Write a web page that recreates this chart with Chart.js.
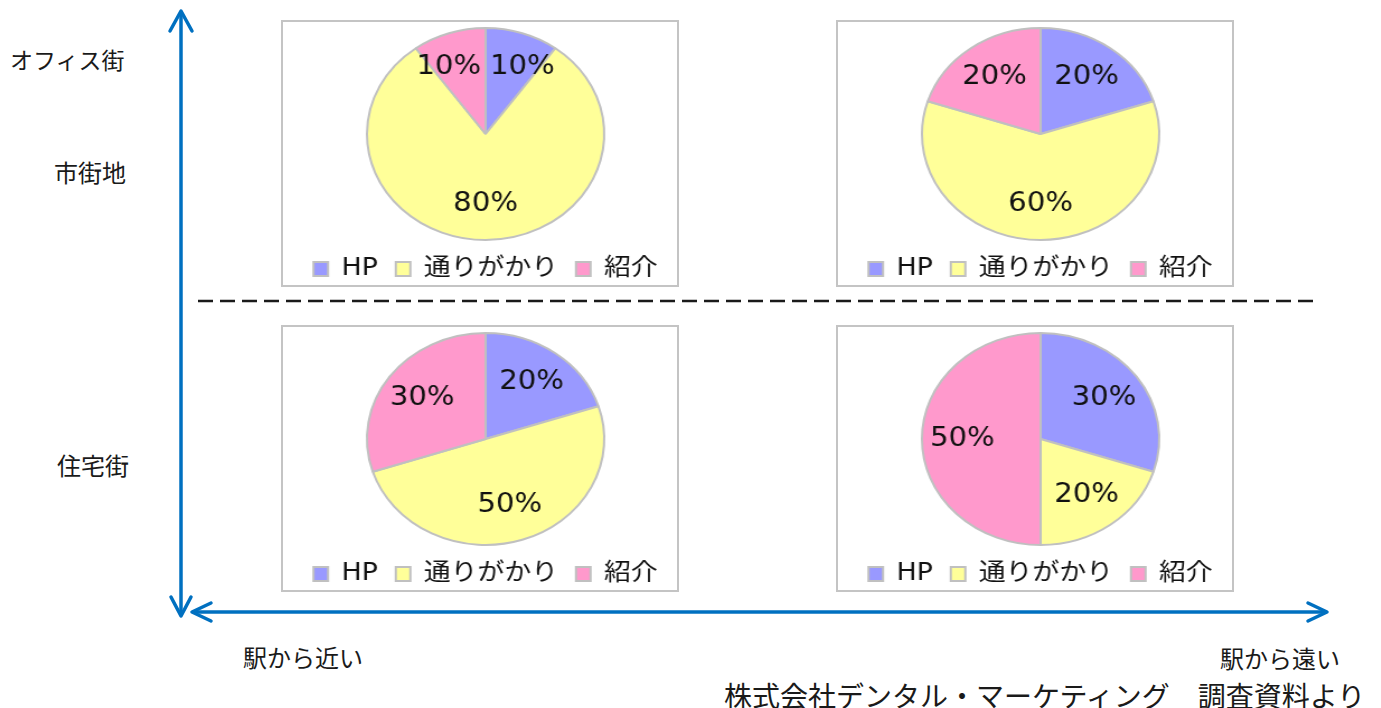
<!DOCTYPE html>
<html lang="ja">
<head>
<meta charset="utf-8">
<script src="https://cdn.jsdelivr.net/npm/chart.js@4.4.1/dist/chart.umd.min.js"></script>
<style>
  html, body { margin: 0; padding: 0; background: #ffffff; }
  body { width: 1381px; height: 708px; position: relative; overflow: hidden;
         font-family: "Noto Sans CJK JP", "Noto Sans", sans-serif; color: #1a1a1a; }
  .lbl { position: absolute; white-space: nowrap; line-height: 1; }
  .box { position: absolute; width: 394px; height: 263px; border: 2px solid #c4c4c4;
         background: #fff; overflow: hidden; }
  .wrap { position: absolute; left: 0; top: 0; width: 352px; height: 269px;
          transform: scaleX(1.1193); transform-origin: 0 0; }
  svg { position: absolute; left: 0; top: 0; }
</style>
</head>
<body>
<svg width="1381" height="708" viewBox="0 0 1381 708">
  <g stroke="#0070c0" stroke-width="3.5" fill="none" stroke-linecap="round" stroke-linejoin="round">
    <line x1="181" y1="13" x2="181" y2="614"/>
    <polyline points="170,31 181,11 192,31"/>
    <polyline points="171,597 181,616 191,597"/>
    <line x1="194" y1="612" x2="1325" y2="612"/>
    <polyline points="211,603 192,612 211,621"/>
    <polyline points="1308,603 1327,612 1308,621"/>
  </g>
  <line x1="198" y1="301" x2="1315" y2="301" stroke="#1a1a1a" stroke-width="2.5" stroke-dasharray="15 7"/>
</svg>

<div class="lbl" style="left:10px; top:48px; font-size:23px;">オフィス街</div>
<div class="lbl" style="left:54px; top:160px; font-size:24px;">市街地</div>
<div class="lbl" style="left:57px; top:453px; font-size:24px;">住宅街</div>
<div class="lbl" style="left:243px; top:645px; font-size:24px;">駅から近い</div>
<div class="lbl" style="left:1220px; top:646px; font-size:24px;">駅から遠い</div>
<div class="lbl" style="left:724px; top:681px; font-size:28px;">株式会社デンタル・マーケティング　調査資料より</div>

<div class="box" style="left:281px; top:20px;"><div class="wrap"><canvas id="c1" width="352" height="269"></canvas></div></div>
<div class="box" style="left:836px; top:20px;"><div class="wrap"><canvas id="c2" width="352" height="269"></canvas></div></div>
<div class="box" style="left:281px; top:325px;"><div class="wrap"><canvas id="c3" width="352" height="269"></canvas></div></div>
<div class="box" style="left:836px; top:325px;"><div class="wrap"><canvas id="c4" width="352" height="269"></canvas></div></div>

<script>
// ---- data ----
const categories = ['HP', '通りがかり', '紹介'];
const officeNear = [10, 80, 10];        // オフィス街・市街地 / 駅から近い
const officeFar = [20, 60, 20];         // オフィス街・市街地 / 駅から遠い
const residentialNear = [20, 50, 30];   // 住宅街 / 駅から近い
const residentialFar = [30, 20, 50];    // 住宅街 / 駅から遠い
const sliceColors = ['#9999ff', '#ffff99', '#ff99cc'];

const pctLabels = {
  id: 'pctLabels',
  afterDatasetsDraw(chart) {
    const ctx = chart.ctx;
    const meta = chart.getDatasetMeta(0);
    const data = chart.data.datasets[0].data;
    const total = data.reduce((a, b) => a + b, 0);
    ctx.save();
    ctx.font = '26px "DejaVu Sans", "Noto Sans", sans-serif';
    ctx.fillStyle = '#111111';
    ctx.textAlign = 'center';
    ctx.textBaseline = 'middle';
    const items = meta.data.map((arc, i) => {
      const p = arc.getProps(['x', 'y', 'startAngle', 'endAngle', 'outerRadius'], true);
      const mid = (p.startAngle + p.endAngle) / 2;
      const r = p.outerRadius * 0.66;
      const text = Math.round(data[i] / total * 100) + '%';
      return { text, x: p.x + Math.cos(mid) * r, y: p.y + Math.sin(mid) * r, w: ctx.measureText(text).width };
    });
    // simple collision avoidance: push overlapping labels apart horizontally
    for (let a = 0; a < items.length; a++) {
      for (let b = a + 1; b < items.length; b++) {
        const A = items[a], B = items[b];
        if (Math.abs(A.y - B.y) < 26) {
          const need = (A.w + B.w) / 2 + 8;
          const gap = Math.abs(A.x - B.x);
          if (gap < need) {
            const push = (need - gap) / 2;
            const left = A.x < B.x ? A : B, right = A.x < B.x ? B : A;
            left.x -= push; right.x += push;
          }
        }
      }
    }
    items.forEach(it => ctx.fillText(it.text, it.x, it.y));
    ctx.restore();
  }
};

function makePie(id, values) {
  new Chart(document.getElementById(id), {
    type: 'pie',
    data: {
      labels: categories,
      datasets: [{
        data: values,
        backgroundColor: sliceColors,
        borderColor: '#c0c0c0',
        borderWidth: 2
      }]
    },
    options: {
      responsive: false,
      animation: false,
      events: [],
      layout: { padding: { top: 5, bottom: 0, left: 10, right: 0 } },
      plugins: {
        tooltip: { enabled: false },
        legend: {
          position: 'bottom',
          labels: {
            boxWidth: 13,
            boxHeight: 14,
            padding: 16,
            color: '#111111',
            font: { size: 24, family: '"DejaVu Sans", "Noto Sans CJK JP", sans-serif' }
          }
        }
      }
    },
    plugins: [pctLabels]
  });
}

makePie('c1', officeNear);
makePie('c2', officeFar);
makePie('c3', residentialNear);
makePie('c4', residentialFar);
</script>
</body>
</html>
